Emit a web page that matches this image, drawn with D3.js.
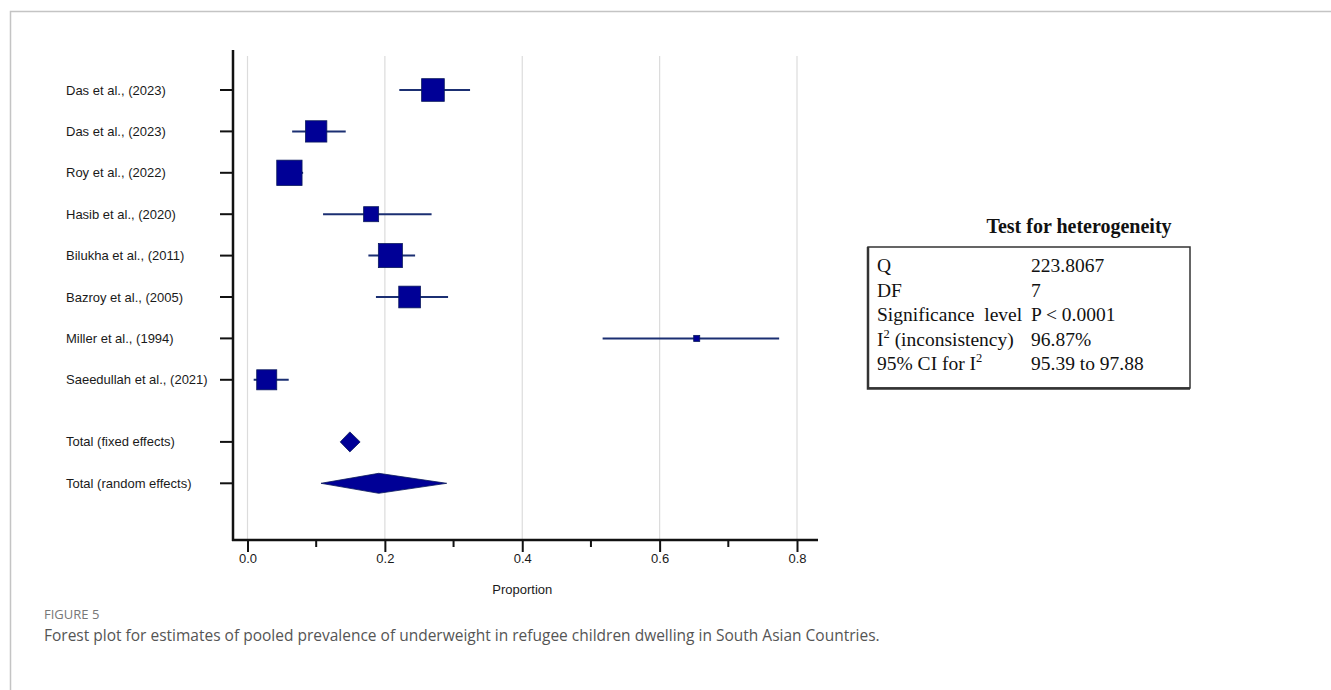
<!DOCTYPE html>
<html lang="en">
<head>
<meta charset="UTF-8">
<title>Forest plot</title>
<script src="https://cdn.jsdelivr.net/npm/d3@7"></script>
<style>
  body { margin: 0; background: #fff; }
</style>
</head>
<body>
<svg width="1331" height="690"></svg>
<script>
// studies (proportion + 95% CI) and their weights (%)
var studies = ["Das et al., (2023)", "Das et al., (2023)", "Roy et al., (2022)", "Hasib et al., (2020)",
               "Bilukha et al., (2011)", "Bazroy et al., (2005)", "Miller et al., (1994)", "Saeedullah et al., (2021)"];
var est   = [0.270, 0.100, 0.061, 0.180, 0.208, 0.236, 0.654, 0.028];
var lower = [0.221, 0.065, 0.045, 0.110, 0.176, 0.187, 0.517, 0.009];
var upper = [0.324, 0.143, 0.081, 0.268, 0.244, 0.292, 0.774, 0.060];
var weight = [15.5, 13.7, 19.3, 6.8, 17.4, 14.2, 1.1, 12.1];

// pooled estimates
var totals    = ["Total (fixed effects)", "Total (random effects)"];
var totEst    = [0.149, 0.191];
var totLower  = [0.135, 0.107];
var totUpper  = [0.164, 0.290];

var xTicks = [0, 0.2, 0.4, 0.6, 0.8];
var xMinor = [0.1, 0.3, 0.5, 0.7];

// heterogeneity table
var hetLabels = ["Q", "DF", "Significance  level", "I² (inconsistency)", "95% CI for I²"];
var hetValues = ["223.8067", "7", "P < 0.0001", "96.87%", "95.39 to 97.88"];

var sans = "Liberation Sans, Arial, sans-serif";
var serif = "Liberation Serif, Times New Roman, serif";

var svg = d3.select("svg");

// figure frame
svg.append("path")
    .attr("d", "M10.5,690 L10.5,11.5 L1331,11.5")
    .attr("fill", "none")
    .attr("stroke", "#c4c4c4")
    .attr("stroke-width", 1.5);

var x = d3.scaleLinear().domain([0, 0.8]).range([247.5, 797]);
var y = d3.scaleLinear().domain([0, 1]).range([90, 131.4]);

var axisX = 233, axisY = 540, axisRight = 818, axisTop = 50;

// gridlines
svg.append("g").selectAll("line")
    .data(xTicks)
    .enter().append("line")
    .attr("x1", d => x(d)).attr("x2", d => x(d))
    .attr("y1", 56).attr("y2", axisY)
    .attr("stroke", "#dcdcdc")
    .attr("stroke-width", 1.2);

// axes lines
svg.append("line").attr("x1", axisX).attr("x2", axisX).attr("y1", axisTop).attr("y2", axisY + 1)
    .attr("stroke", "#111").attr("stroke-width", 2.5);
svg.append("line").attr("x1", axisX - 1).attr("x2", axisRight).attr("y1", axisY).attr("y2", axisY)
    .attr("stroke", "#111").attr("stroke-width", 2.5);

// x axis ticks + labels
var gx = svg.append("g").attr("transform", "translate(0," + axisY + ")")
    .call(d3.axisBottom(x).tickValues(xTicks).tickSize(12).tickPadding(2).tickFormat(d3.format(".1f")));
gx.select(".domain").remove();
gx.selectAll(".tick line").attr("stroke", "#111").attr("stroke-width", 2);
gx.selectAll(".tick text").attr("font-size", 13).attr("fill", "#1a1a1a")
    .attr("font-family", sans);

svg.append("g").selectAll("line")
    .data(xMinor)
    .enter().append("line")
    .attr("x1", d => x(d)).attr("x2", d => x(d))
    .attr("y1", axisY).attr("y2", axisY + 7)
    .attr("stroke", "#111").attr("stroke-width", 2);

svg.append("text")
    .attr("x", x(0.4)).attr("y", axisY + 54)
    .attr("text-anchor", "middle")
    .attr("font-family", sans)
    .attr("font-size", 13).attr("fill", "#1a1a1a")
    .text("Proportion");

// rows
var rows = studies.map(function (s, i) {
    return {label: s, i: i, est: est[i], lo: lower[i], hi: upper[i], w: weight[i]};
});
var totRows = totals.map(function (s, j) {
    return {label: s, i: studies.length + 0.5 + j, est: totEst[j], lo: totLower[j], hi: totUpper[j]};
});
var allRows = rows.concat(totRows);

// y ticks and labels
svg.append("g").selectAll("line")
    .data(allRows)
    .enter().append("line")
    .attr("x1", axisX - 13).attr("x2", axisX)
    .attr("y1", d => y(d.i)).attr("y2", d => y(d.i))
    .attr("stroke", "#111").attr("stroke-width", 2);

svg.append("g").selectAll("text")
    .data(allRows)
    .enter().append("text")
    .attr("x", 66)
    .attr("y", d => y(d.i))
    .attr("dy", "0.35em")
    .attr("font-family", sans)
    .attr("font-size", 13)
    .attr("fill", "#1a1a1a")
    .text(d => d.label);

// CI lines
svg.append("g").selectAll("line")
    .data(rows)
    .enter().append("line")
    .attr("x1", d => x(d.lo)).attr("x2", d => x(d.hi))
    .attr("y1", d => y(d.i)).attr("y2", d => y(d.i))
    .attr("stroke", "#1b2f72")
    .attr("stroke-width", 2);

// weight squares
var size = d3.scaleSqrt().domain([0, d3.max(weight)]).range([0, 25.3]);
svg.append("g").selectAll("rect")
    .data(rows)
    .enter().append("rect")
    .attr("x", d => x(d.est) - size(d.w) / 2)
    .attr("y", d => y(d.i) - size(d.w) / 2)
    .attr("width", d => size(d.w))
    .attr("height", d => size(d.w))
    .attr("fill", "#000096")
    .attr("stroke", "#0b1a5c")
    .attr("stroke-width", 0.8);

// pooled diamonds
svg.append("g").selectAll("path")
    .data(totRows)
    .enter().append("path")
    .attr("d", function (d) {
        var cy = y(d.i), h = 10;
        return "M" + x(d.lo) + "," + cy + " L" + x(d.est) + "," + (cy - h) +
               " L" + x(d.hi) + "," + cy + " L" + x(d.est) + "," + (cy + h) + " Z";
    })
    .attr("fill", "#000096")
    .attr("stroke", "#0b1a5c")
    .attr("stroke-width", 0.8);

// heterogeneity table
var fs = 19.5;
var tbl = svg.append("g");
tbl.append("text")
    .attr("x", 1079).attr("y", 233)
    .attr("text-anchor", "middle")
    .attr("font-family", serif)
    .attr("font-weight", "bold")
    .attr("font-size", 20)
    .attr("fill", "#111")
    .text("Test for heterogeneity");

tbl.append("rect")
    .attr("x", 868).attr("y", 247)
    .attr("width", 322).attr("height", 141)
    .attr("fill", "none")
    .attr("stroke", "#333")
    .attr("stroke-width", 1.5);
tbl.append("path")
    .attr("d", "M868,247 L868,388.5 L1190,388.5")
    .attr("fill", "none").attr("stroke", "#333").attr("stroke-width", 2.5);

var rowH = 24.5;
hetLabels.forEach(function (lab, k) {
    var ty = 272 + k * rowH;
    var t = tbl.append("text")
        .attr("x", 877).attr("y", ty)
        .attr("font-family", serif)
        .attr("font-size", fs).attr("fill", "#111")
        .attr("xml:space", "preserve");
    if (lab.indexOf("I²") === 0) {
        t.append("tspan").text("I");
        t.append("tspan").attr("dy", -8).attr("font-size", 12.5).text("2");
        t.append("tspan").attr("dy", 8).text(" (inconsistency)");
    } else if (lab.indexOf("I²") > 0) {
        t.append("tspan").text("95% CI for I");
        t.append("tspan").attr("dy", -8).attr("font-size", 12.5).text("2");
    } else {
        t.text(lab);
    }
    tbl.append("text")
        .attr("x", 1031).attr("y", ty)
        .attr("font-family", serif)
        .attr("font-size", fs).attr("fill", "#111")
        .text(hetValues[k]);
});

// caption
svg.append("text")
    .attr("x", 44).attr("y", 619)
    .attr("font-family", "Open Sans, Noto Sans, sans-serif")
    .attr("font-size", 13).attr("fill", "#777")
    .text("FIGURE 5");
svg.append("text")
    .attr("x", 44).attr("y", 641)
    .attr("font-family", "Open Sans, Noto Sans, sans-serif")
    .attr("font-size", 15.5).attr("fill", "#555")
    .text("Forest plot for estimates of pooled prevalence of underweight in refugee children dwelling in South Asian Countries.");
</script>
</body>
</html>
